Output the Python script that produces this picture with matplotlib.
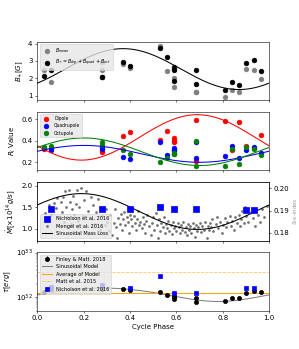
#!/usr/bin/env python3
# plot.py

import numpy as np
import matplotlib.pyplot as plt

# panel 1: field strengths
b_phase = [0.03, 0.06, 0.28, 0.28, 0.37, 0.40, 0.53, 0.56, 0.59, 0.59, 0.59,
           0.685, 0.685, 0.81, 0.84, 0.87, 0.90, 0.935, 0.965]
b_mean = [2.45, 1.8, 2.95, 2.5, 2.8, 2.6, 3.85, 2.4, 2.55, 2.0, 1.5,
          1.2, 1.2, 0.9, 1.3, 1.2, 2.55, 2.45, 1.95]
b_plus = [2.15, 2.45, 2.1, 2.1, 2.95, 2.7, 3.75, 3.2, 2.65, 2.5, 1.85,
          2.5, 1.65, 1.3, 1.8, 1.6, 2.9, 3.05, 2.4]
b_sin = (2.53, 1.18, 0.37)  # mean, amplitude, phase of max

# panel 2: energy fractions
r_phase = [0.03, 0.06, 0.28, 0.28, 0.37, 0.40, 0.53, 0.56, 0.59, 0.59, 0.59,
           0.685, 0.685, 0.81, 0.84, 0.87, 0.90, 0.935, 0.965]
r_dip = [0.32, 0.33, 0.295, 0.30, 0.44, 0.48, 0.41, 0.49, 0.42, 0.40, 0.385,
         0.59, 0.215, 0.58, 0.315, 0.575, 0.35, 0.33, 0.455]
r_quad = [0.335, 0.31, 0.34, 0.32, 0.25, 0.235, 0.39, 0.265, 0.335, 0.31, 0.31,
          0.385, 0.24, 0.26, 0.355, 0.24, 0.31, 0.34, 0.285]
r_oct = [0.345, 0.35, 0.385, 0.36, 0.315, 0.28, 0.2, 0.24, 0.29, 0.28, 0.28,
         0.40, 0.17, 0.165, 0.325, 0.18, 0.34, 0.325, 0.27]
dip_sin = (0.43, 0.21, 0.69)
quad_sin = (0.278, 0.078, 0.20)
oct_sin = (0.2975, 0.1275, 0.20)

# panel 3: mass loss and S-index
nich_phase = [0.06, 0.28, 0.40, 0.53, 0.59, 0.685, 0.90, 0.935]
nich_mdot = [1.45, 1.45, 1.46, 1.50, 1.47, 1.46, 1.43, 1.43]
mdot_sin = (1.40, 0.42, 0.19)
mengel_phase = [
    0.035, 0.05, 0.06, 0.07, 0.08, 0.085, 0.09, 0.10, 0.105, 0.11, 0.115, 0.12,
    0.125, 0.13, 0.135, 0.14, 0.145, 0.15, 0.155, 0.16, 0.165, 0.17, 0.175,
    0.18, 0.19, 0.195, 0.20, 0.21, 0.215, 0.22, 0.23, 0.235, 0.24, 0.25, 0.255,
    0.26, 0.27, 0.28, 0.29, 0.295, 0.30, 0.31, 0.315, 0.32, 0.33, 0.335, 0.34,
    0.345, 0.35, 0.355, 0.36, 0.365, 0.37, 0.375, 0.38, 0.385, 0.39, 0.395,
    0.40, 0.405, 0.41, 0.415, 0.42, 0.425, 0.43, 0.435, 0.44, 0.445, 0.45,
    0.455, 0.46, 0.465, 0.47, 0.475, 0.48, 0.49, 0.495, 0.50, 0.505, 0.51,
    0.515, 0.52, 0.525, 0.53, 0.535, 0.54, 0.545, 0.55, 0.555, 0.56, 0.565,
    0.57, 0.575, 0.58, 0.585, 0.59, 0.595, 0.60, 0.605, 0.61, 0.615, 0.62,
    0.625, 0.63, 0.635, 0.64, 0.645, 0.65, 0.655, 0.66, 0.665, 0.67, 0.675,
    0.68, 0.685, 0.69, 0.695, 0.70, 0.705, 0.71, 0.72, 0.725, 0.73, 0.735,
    0.74, 0.745, 0.75, 0.755, 0.76, 0.77, 0.775, 0.78, 0.79, 0.795, 0.80,
    0.81, 0.815, 0.82, 0.83, 0.835, 0.84, 0.85, 0.855, 0.86, 0.87, 0.875,
    0.88, 0.885, 0.89, 0.895, 0.90, 0.91, 0.92, 0.93, 0.94, 0.95, 0.96, 0.97,
    0.98, 0.99]
mengel_s = [
    0.1890, 0.1925, 0.1880, 0.1935, 0.1912, 0.1955, 0.1870, 0.1940, 0.1895,
    0.1960, 0.1850, 0.1985, 0.1915, 0.1870, 0.1992, 0.1940, 0.1840, 0.1905,
    0.1965, 0.1880, 0.1930, 0.1990, 0.1855, 0.1915, 0.2000, 0.1875, 0.1945,
    0.1985, 0.1830, 0.1900, 0.1960, 0.1860, 0.1925, 0.1840, 0.1895, 0.1950,
    0.1815, 0.1875, 0.1835, 0.1905, 0.1850, 0.1810, 0.1880, 0.1790, 0.1845,
    0.1905, 0.1825, 0.1775, 0.1865, 0.1840, 0.1885, 0.1815, 0.1860, 0.1895,
    0.1835, 0.1870, 0.1850, 0.1800, 0.1880, 0.1860, 0.1830, 0.1875, 0.1845,
    0.1815, 0.1860, 0.1900, 0.1835, 0.1850, 0.1820, 0.1870, 0.1840, 0.1800,
    0.1855, 0.1880, 0.1830, 0.1790, 0.1845, 0.1870, 0.1815, 0.1890, 0.1835,
    0.1775, 0.1860, 0.1810, 0.1845, 0.1825, 0.1870, 0.1800, 0.1840, 0.1820,
    0.1855, 0.1810, 0.1835, 0.1795, 0.1850, 0.1820, 0.1830, 0.1810, 0.1845,
    0.1825, 0.1800, 0.1835, 0.1815, 0.1850, 0.1805, 0.1825, 0.1790, 0.1840,
    0.1815, 0.1830, 0.1800, 0.1845, 0.1820, 0.1780, 0.1835, 0.1810, 0.1825,
    0.1845, 0.1805, 0.1830, 0.1815, 0.1850, 0.1775, 0.1830, 0.1815, 0.1845,
    0.1825, 0.1860, 0.1810, 0.1840, 0.1870, 0.1820, 0.1850, 0.1800, 0.1835,
    0.1865, 0.1825, 0.1850, 0.1875, 0.1830, 0.1855, 0.1815, 0.1870, 0.1845,
    0.1880, 0.1830, 0.1860, 0.1900, 0.1845, 0.1915, 0.1875, 0.1850, 0.1895,
    0.1865, 0.1830, 0.1880, 0.1850, 0.1905, 0.1870, 0.1920]

# panel 4: torque
tau_phase = [0.03, 0.06, 0.28, 0.37, 0.40, 0.53, 0.56, 0.59, 0.59, 0.59,
             0.685, 0.685, 0.81, 0.84, 0.87, 0.90, 0.935, 0.965]
tau_fm = [1.32, 1.5, 1.5, 1.5, 1.42, 1.32, 1.13, 1.09, 0.99, 0.92,
          0.95, 0.80, 0.81, 0.95, 0.95, 1.25, 1.37, 1.28]  # x1e32
tau_err = [0.05] * len(tau_fm)
tau_nich = [1.69, 1.85, 1.57, 2.95, 1.25, 1.25, 1.63, 1.63]  # x1e32
tau_sin = (1.20, 0.40, 0.28)
tau_avg = 1.25
tau_matt = 3.7


def sinusoid(x, pars):
    mean, amp, peak = pars
    return mean + amp * np.cos(2 * np.pi * (x - peak))


def legend(ax, **kw):
    return ax.legend(facecolor="0.9", edgecolor="0.8", **kw)


def plot_b(ax, x):
    ax.scatter(b_phase, b_mean, s=45, color="grey", label=r"$B_{mean}$")
    ax.scatter(b_phase, b_plus, s=45, color="black",
               label=r"$B_{+}=B_{dip}+B_{quad}+B_{oct}$")
    ax.plot(x, sinusoid(x, b_sin), color="black", lw=1.5)
    ax.set_ylabel(r"$B_{+}[G]$")
    ax.set_ylim(0.73, 4.1)
    legend(ax, loc="upper left", fontsize=7)


def plot_r(ax, x):
    ax.scatter(r_phase, r_dip, s=45, color="red", label="Dipole")
    ax.scatter(r_phase, r_quad, s=45, color="blue", label="Quadrupole")
    ax.scatter(r_phase, r_oct, s=45, color="green", label="Octupole")
    ax.plot(x, sinusoid(x, dip_sin), color="red", lw=1.5)
    ax.plot(x, sinusoid(x, quad_sin), color="blue", lw=1.5)
    ax.plot(x, sinusoid(x, oct_sin), color="green", lw=1.5)
    ax.set_ylabel(r"$R_i$ Value")
    ax.set_ylim(0.125, 0.665)
    ax.set_yticks([0.2, 0.4, 0.6])
    legend(ax, loc="upper left", fontsize=6.5)


def plot_mdot(ax, x):
    ax2 = ax.twinx()
    h1 = ax.scatter(nich_phase, nich_mdot, s=55, marker="s", color="blue",
                    label="Nicholson et al. 2016", zorder=3)
    h2 = ax2.scatter(mengel_phase, mengel_s, s=8, color="0.45",
                     label="Mengel et al. 2016")
    h3, = ax.plot(x, sinusoid(x, mdot_sin), color="black", lw=1.5,
                  label="Sinusoidal Mass Loss")
    ax.set_ylabel(r"$\dot{M}[\times10^{14}g/s]$")
    ax.set_ylim(0.72, 2.09)
    ax.set_yticks([1.0, 1.5, 2.0])
    ax2.set_ylim(0.1766, 0.2027)
    ax2.set_yticks([0.18, 0.19, 0.20])
    ax2.set_ylabel(r"$S_{HK}$-index", color="0.6", fontsize=8, labelpad=2)
    ax.set_zorder(ax2.get_zorder() + 1)
    ax.patch.set_visible(False)
    legend(ax, handles=[h1, h2, h3], loc="lower left", fontsize=7.2)


def plot_tau(ax, x):
    sc = 1e32
    h1 = ax.errorbar(tau_phase, np.array(tau_fm) * sc,
                     yerr=np.array(tau_err) * sc, fmt="o", color="black",
                     ms=6, label="Finley & Matt. 2018", zorder=3)
    h2, = ax.plot(x, sinusoid(x, tau_sin) * sc, color="grey", lw=1.5,
                  label="Sinusoidal Model")
    h3 = ax.axhline(tau_avg * sc, color="orange", lw=1.5,
                    label="Average of Model")
    h4 = ax.axhline(tau_matt * sc, color="orange", lw=1.2, ls="--", alpha=0.6,
                    label="Matt et al. 2015")
    h5, = ax.plot(nich_phase, np.array(tau_nich) * sc, "s", color="blue",
                  ms=7, label="Nicholson et al. 2016", zorder=4)
    ax.set_yscale("log")
    ax.set_ylim(5e31, 1.02e33)
    ax.set_ylabel(r"$\tau[erg]$")
    ax.set_xlabel("Cycle Phase")
    legend(ax, handles=[h1, h2, h3, h4, h5], loc="upper left", fontsize=7.2)


def main():
    fig, axes = plt.subplots(4, 1, sharex=True, figsize=(5.98, 6.98), dpi=50)
    x = np.linspace(0, 1, 300)
    plot_b(axes[0], x)
    plot_r(axes[1], x)
    plot_mdot(axes[2], x)
    plot_tau(axes[3], x)
    axes[3].set_xlim(0, 1)
    fig.savefig("out.png", dpi=50)


if __name__ == "__main__":
    main()
